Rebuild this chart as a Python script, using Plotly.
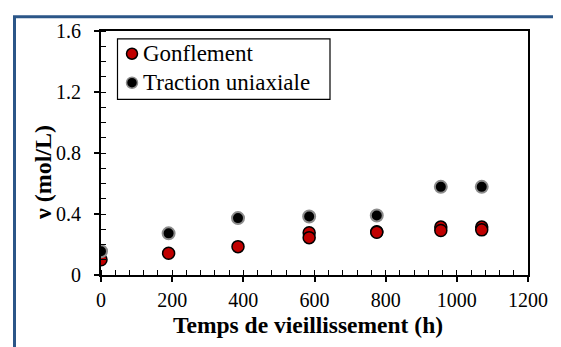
import plotly.graph_objects as go

# Data
t_gonf = [0, 190, 385, 585, 585, 775, 775, 955, 955, 1070, 1070]
v_gonf = [0.10, 0.143, 0.186, 0.277, 0.245, 0.283, 0.280, 0.314, 0.292, 0.314, 0.296]
t_trac = [0, 190, 385, 585, 775, 955, 1070]
v_trac = [0.156, 0.273, 0.373, 0.384, 0.390, 0.578, 0.578]
x_ticks = [0, 200, 400, 600, 800, 1000, 1200]
y_ticks = [0, 0.4, 0.8, 1.2, 1.6]
y_tick_labels = ["0", "0.4", "0.8", "1.2", "1.6"]
series_names = ["Gonflement", "Traction uniaxiale"]

FONT = "Liberation Serif"
OFF = 8  # default page body margin

# plot area in window pixels
PL, PR, PT, PB = 101, 528, 25, 275
W, H = 561 - OFF, 347 - OFF


def px(x):
    return (x - PL) / (PR - PL)


def py(y):
    return (PB - y) / (PB - PT)


RED = dict(color="#C00000", line=dict(color="black", width=1.5))
BLK = dict(color="black", line=dict(color="#8C8C8C", width=2))

fig = go.Figure()
fig.add_trace(go.Scatter(x=t_gonf, y=v_gonf, mode="markers", name=series_names[0],
                         marker=dict(size=12, **RED)))
fig.add_trace(go.Scatter(x=t_trac, y=v_trac, mode="markers", name=series_names[1],
                         marker=dict(size=12, **BLK)))

axis_common = dict(
    showgrid=False, zeroline=False, showline=True, linecolor="black", linewidth=2,
    mirror=True, ticks="outside", ticklen=5, tickwidth=1.5, tickcolor="black",
    tickfont=dict(family=FONT, size=20, color="black"),
)

fig.update_xaxes(
    range=[0, 1200], tickvals=x_ticks, **axis_common,
    minor=dict(ticks="inside", dtick=40, ticklen=5, tickwidth=1, tickcolor="black"),
    ticklabelstandoff=1,
)
fig.update_yaxes(
    range=[0, 1.6], tickvals=y_ticks, ticktext=y_tick_labels, **axis_common,
    minor=dict(ticks="inside", dtick=0.1, ticklen=5, tickwidth=1, tickcolor="black"),
    ticklabelstandoff=9,
)

# axis titles
fig.add_annotation(
    text="<b>Temps de vieillissement (h)</b>", xref="paper", yref="paper",
    x=px(307.5), y=py(326.5), xanchor="center", yanchor="middle", showarrow=False,
    font=dict(family=FONT, size=23.5, color="black"), borderpad=0,
)
fig.add_annotation(
    text="<b>ν (mol/L)</b>", textangle=-90, xref="paper", yref="paper",
    x=px(43), y=py(169.5), xanchor="center", yanchor="middle", showarrow=False,
    font=dict(family=FONT, size=24, color="black"), borderpad=0,
)

# legend box (drawn by hand to match the original layout)
fig.add_shape(type="rect", xref="paper", yref="paper",
              x0=px(117.5), x1=px(330), y0=py(95), y1=py(33),
              line=dict(color="black", width=1.2), fillcolor="white", layer="above")
for i, (name, mk) in enumerate(zip(series_names, [RED, BLK])):
    yc = [48.3, 78][i]
    fig.add_shape(type="circle", xref="paper", yref="paper",
                  xsizemode="pixel", ysizemode="pixel",
                  xanchor=px(132), yanchor=py(yc), x0=-5.5, x1=5.5, y0=-5.5, y1=5.5,
                  fillcolor=mk["color"], line=dict(color=mk["line"]["color"], width=1.5),
                  layer="above")
    fig.add_annotation(text=name, xref="paper", yref="paper",
                       x=px(141), y=py(yc), xanchor="left", yanchor="middle",
                       showarrow=False, font=dict(family=FONT, size=23, color="black"))

# blue outer frame
fig.add_shape(type="rect", xref="paper", yref="paper",
              x0=px(14.5), x1=px(620), y0=py(420), y1=py(10.5),
              line=dict(color="#2B5688", width=3), layer="below")

fig.update_layout(
    width=W, height=H,
    margin=dict(l=PL - OFF, r=W - (PR - OFF), t=PT - OFF, b=H - (PB - OFF)),
    paper_bgcolor="white", plot_bgcolor="white",
    showlegend=False,
)

fig.write_html("out.html")
